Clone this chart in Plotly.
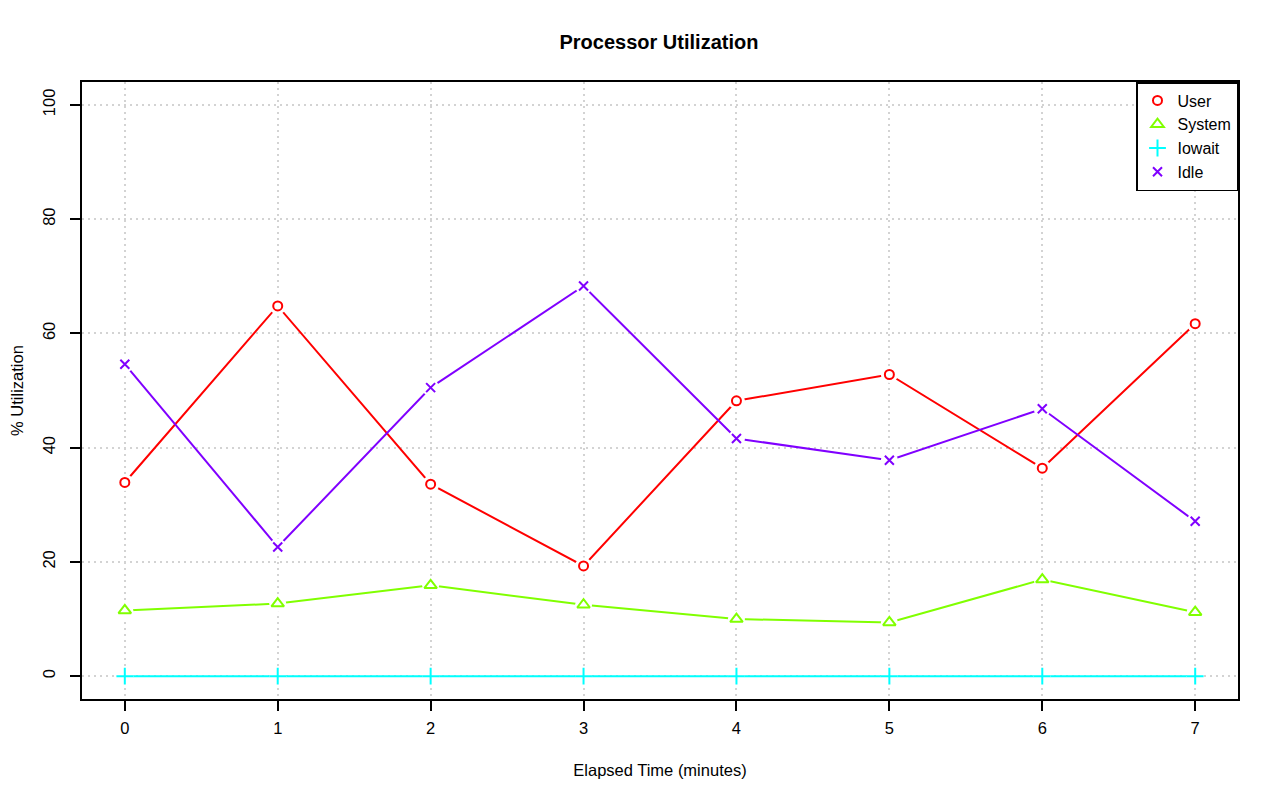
import plotly.graph_objects as go

minutes = [0, 1, 2, 3, 4, 5, 6, 7]
user = [33.9, 64.8, 33.6, 19.3, 48.2, 52.8, 36.4, 61.7]
system = [11.5, 12.7, 15.9, 12.5, 10.0, 9.4, 16.9, 11.2]
iowait = [0, 0, 0, 0, 0, 0, 0, 0]
idle = [54.6, 22.6, 50.5, 68.3, 41.6, 37.8, 46.8, 27.1]

series_names = ["User", "System", "Iowait", "Idle"]
series_values = [user, system, iowait, idle]
colors = ["#FF0000", "#80FF00", "#00FFFF", "#8000FF"]
symbols = ["circle-open", "triangle-up-open", "cross-thin-open", "x-thin-open"]
sizes = [9, 11, 12, 9]
y_ticks = [0, 20, 40, 60, 80, 100]

FONT = "Liberation Sans, Arial, Helvetica, sans-serif"

fig = go.Figure()

# lines
for name, vals, col in zip(series_names, series_values, colors):
    fig.add_trace(go.Scatter(x=minutes, y=vals, mode="lines",
                             line=dict(color=col, width=2),
                             showlegend=False, hoverinfo="skip"))
# gaps around points (R type="b")
for vals in series_values:
    fig.add_trace(go.Scatter(x=minutes, y=vals, mode="markers",
                             marker=dict(symbol="circle", size=17, color="white",
                                         line=dict(width=0)),
                             showlegend=False, hoverinfo="skip"))
# point symbols
for name, vals, col, sym, sz in zip(series_names, series_values, colors, symbols, sizes):
    fig.add_trace(go.Scatter(x=minutes, y=vals, mode="markers", name=name,
                             marker=dict(symbol=sym, size=sz, color=col,
                                         line=dict(color=col, width=2)),
                             showlegend=True))

axis_common = dict(
    showline=True, linecolor="black", linewidth=2, mirror=True,
    ticks="outside", ticklen=10, tickwidth=1.5, tickcolor="black",
    showgrid=True, gridcolor="#d3d3d3", griddash="1.5px,4.5px", gridwidth=1.5,
    zeroline=False, automargin=False,
    tickfont=dict(family=FONT, size=16.5, color="black"),
)

fig.update_layout(
    width=1264, height=785,
    paper_bgcolor="white", plot_bgcolor="white",
    margin=dict(l=74, r=34, t=74, b=94),
    title=dict(text="<b>Processor Utilization</b>", x=0.515, xanchor="center",
               y=0.9567, yanchor="middle",
               font=dict(family=FONT, size=20, color="black")),
    xaxis=dict(range=[-0.28, 7.28], tickmode="array", tickvals=minutes,
               ticklabelstandoff=3,
               title=dict(text="Elapsed Time (minutes)", standoff=29,
                          font=dict(family=FONT, size=16.5, color="black")),
               **axis_common),
    yaxis=dict(range=[-4, 104], tickmode="array", tickvals=y_ticks,
               tickangle=-90, ticklabelstandoff=8,
               title=dict(text="% Utilization", standoff=18,
                          font=dict(family=FONT, size=16.5, color="black")),
               **axis_common),
    legend=dict(x=1, xanchor="right", y=1, yanchor="top",
                bgcolor="white", bordercolor="black", borderwidth=1.5,
                font=dict(family=FONT, size=16, color="black"),
                itemwidth=30, tracegroupgap=0),
    showlegend=True,
)

fig.write_html("out.html")
